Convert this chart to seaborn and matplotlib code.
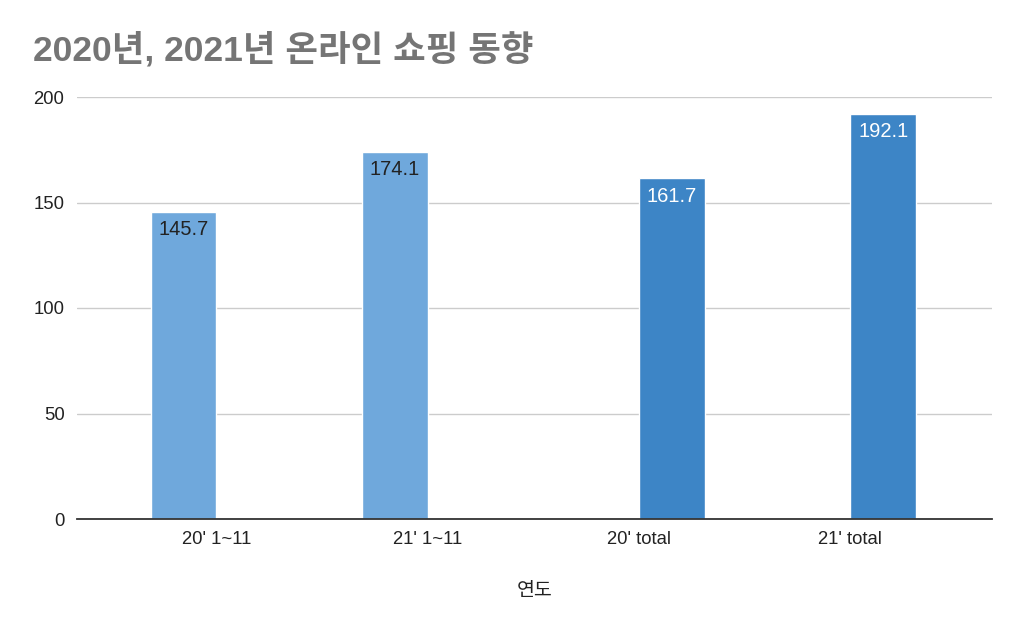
import pandas as pd
import numpy as np
import matplotlib.pyplot as plt
import seaborn as sns

# data
categories = ["20' 1~11", "21' 1~11", "20' total", "21' total"]
values = [145.7, 174.1, 161.7, 192.1]
series = ["1~11", "1~11", "total", "total"]
series_colors = {"1~11": "#6fa8dc", "total": "#3d85c6"}
label_colors = {"1~11": "#222222", "total": "#ffffff"}
y_ticks = [0, 50, 100, 150, 200]

df = pd.DataFrame({"연도": categories, "value": values, "series": series})

sns.set_theme(style="white")
plt.rcParams['font.family'] = ['Liberation Sans', 'Noto Sans CJK KR', 'DejaVu Sans']

fig = plt.figure(figsize=(10.24, 6.33), dpi=100)
ax = fig.add_axes([77 / 1024, 1 - 519 / 633, (992 - 77) / 1024, (519 - 97) / 633])

sns.barplot(data=df, x="연도", y="value", hue="series", palette=series_colors,
            order=categories, width=0.62, dodge=True, saturation=1,
            legend=False, ax=ax)

# value labels inside the top of each bar
for container, name in zip(ax.containers, ["1~11", "total"]):
    ax.bar_label(container, fmt="%.1f", padding=-20, color=label_colors[name],
                 fontsize=14.5)

ax.set_xlim(-0.66, 3.67)
ax.set_ylim(0, 200)
ax.set_yticks(y_ticks)
ax.yaxis.grid(True, color="#cccccc", linewidth=1)
ax.set_axisbelow(True)
for s in ["top", "right", "left"]:
    ax.spines[s].set_visible(False)
ax.spines["bottom"].set_color("#333333")
ax.spines["bottom"].set_linewidth(1.3)
ax.tick_params(axis="both", length=0, labelsize=13.3, colors="#222222")
ax.tick_params(axis="x", pad=9)
ax.tick_params(axis="y", pad=9)
ax.set_ylabel("")
ax.set_xlabel("연도", fontsize=14, color="#222222", labelpad=25)

fig.text(33 / 1024, 1 - 50 / 633, "2020년, 2021년 온라인 쇼핑 동향", fontsize=25.5,
         fontweight="bold", color="#757575", va="center", ha="left")

fig.savefig("out.png", dpi=100)
